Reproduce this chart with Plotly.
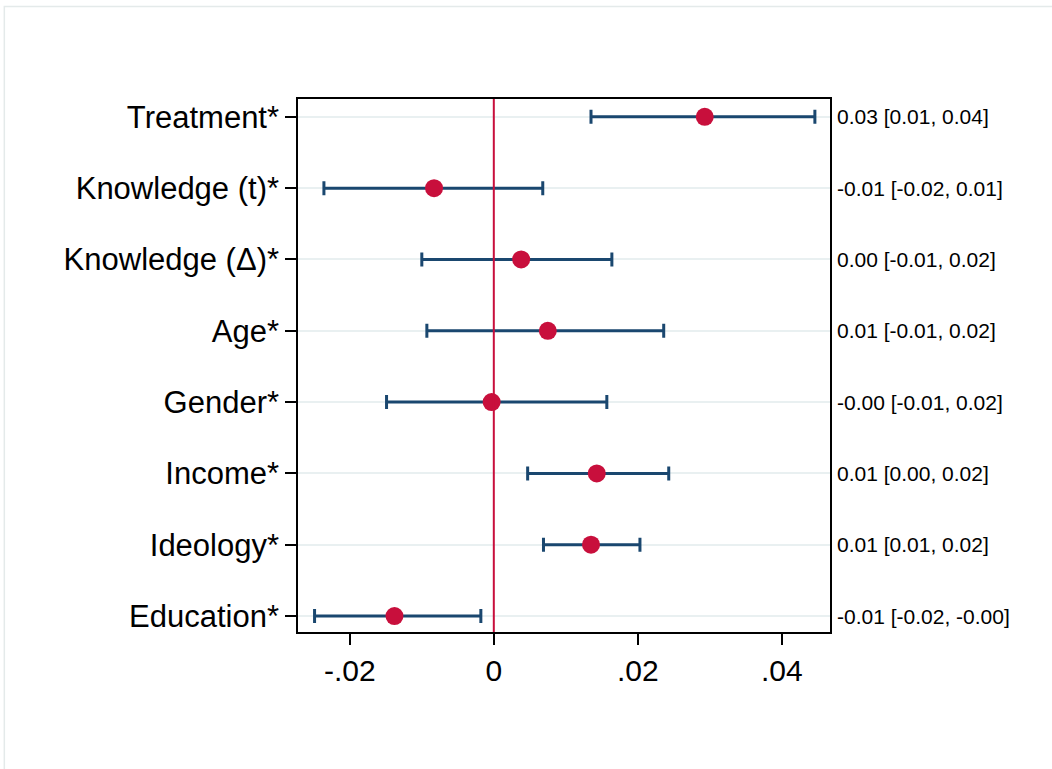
import plotly.graph_objects as go

labels = ["Treatment*", "Knowledge (t)*", "Knowledge (\u0394)*", "Age*",
          "Gender*", "Income*", "Ideology*", "Education*"]
coef = [0.0293, -0.0083, 0.0038, 0.0075, -0.0003, 0.0143, 0.0135, -0.0138]
lower = [0.0135, -0.0236, -0.0100, -0.0093, -0.0149, 0.0047, 0.0069, -0.0249]
upper = [0.0446, 0.0068, 0.0164, 0.0236, 0.0157, 0.0243, 0.0203, -0.0018]
ci_text = ["0.03 [0.01, 0.04]", "-0.01 [-0.02, 0.01]", "0.00 [-0.01, 0.02]",
           "0.01 [-0.01, 0.02]", "-0.00 [-0.01, 0.02]", "0.01 [0.00, 0.02]",
           "0.01 [0.01, 0.02]", "-0.01 [-0.02, -0.00]"]
x_tickvals = [-0.02, 0, 0.02, 0.04]
x_ticktext = ["-.02", "0", ".02", ".04"]

n = len(labels)
ypos = [n - i for i in range(n)]

FONT = "Liberation Sans, Arial, Helvetica, sans-serif"
NAVY = "#1a476f"
RED = "#c80f3c"

fig = go.Figure()
fig.add_trace(go.Scatter(
    x=coef, y=ypos, mode="markers",
    marker=dict(size=18, color=RED, line=dict(width=0)),
    error_x=dict(type="data", symmetric=False,
                 array=[u - c for u, c in zip(upper, coef)],
                 arrayminus=[c - l for c, l in zip(coef, lower)],
                 color=NAVY, thickness=3, width=7),
    showlegend=False, hoverinfo="skip",
))

fig.add_shape(type="line", xref="x", yref="paper", x0=0, x1=0, y0=0, y1=1,
              line=dict(color=RED, width=2), layer="above")

for yv, t in zip(ypos, ci_text):
    fig.add_annotation(x=1, xref="paper", y=yv, yref="y", text=t,
                       showarrow=False, xanchor="left", xshift=5,
                       font=dict(family=FONT, size=21, color="black"))

# outer graph-region frame
fig.add_shape(type="rect", xref="paper", yref="paper",
              x0=-0.552, x1=1.44, y0=-0.29, y1=1.1735,
              line=dict(color="#e4eaea", width=1.5), layer="below")

fig.update_layout(
    width=1052, height=769,
    margin=dict(l=298, r=222, t=99, b=137),
    paper_bgcolor="white", plot_bgcolor="white",
    font=dict(family=FONT, color="black"),
    xaxis=dict(range=[-0.0272, 0.0467], tickvals=x_tickvals, ticktext=x_ticktext,
               ticks="outside", ticklen=11, tickwidth=1.5, tickcolor="black",
               showline=True, linecolor="black", linewidth=1.5, mirror=True,
               showgrid=False, zeroline=False,
               tickfont=dict(family=FONT, size=30, color="black")),
    yaxis=dict(range=[0.776, 8.25], tickvals=ypos, ticktext=labels,
               ticks="outside", ticklen=11, tickwidth=1.5, tickcolor="black",
               showline=True, linecolor="black", linewidth=1.5, mirror=True,
               showgrid=True, gridcolor="#e9f0f1", gridwidth=2, zeroline=False,
               tickfont=dict(family=FONT, size=31, color="black")),
)

fig.write_html("out.html")
